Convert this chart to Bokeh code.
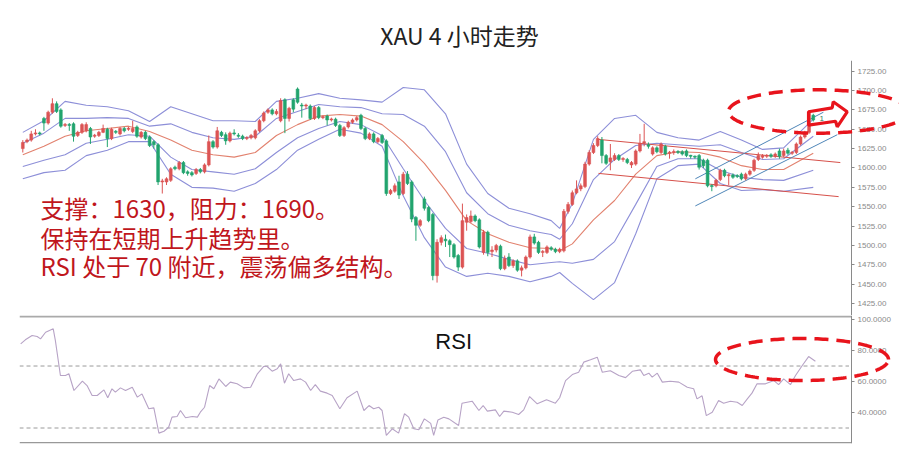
import numpy as np
from bokeh.plotting import figure
from bokeh.layouts import column
from bokeh.models import (Range1d, FixedTicker, NumeralTickFormatter, Label, PolyAnnotation)
from bokeh.embed import file_html
from bokeh.resources import INLINE

# ---------------- data ----------------
opens = [1625, 1634, 1636, 1644, 1645, 1664, 1658, 1672, 1683, 1675,
         1655, 1656, 1657, 1642, 1646, 1648, 1651, 1641, 1642, 1646,
         1650, 1638, 1647, 1644, 1651, 1650, 1647, 1653, 1640, 1646,
         1640, 1634, 1630, 1582, 1582, 1584, 1601, 1599, 1607, 1595,
         1594, 1593, 1598, 1595, 1604, 1634, 1627, 1646, 1643, 1635,
         1645, 1642, 1641, 1638, 1639, 1639, 1648, 1661, 1672, 1675,
         1670, 1661, 1688, 1664, 1688, 1702, 1681, 1680, 1680, 1664,
         1678, 1665, 1667, 1662, 1663, 1655, 1642, 1653, 1659, 1662,
         1668, 1651, 1638, 1644, 1634, 1642, 1635, 1567, 1570, 1582,
         1567, 1592, 1582, 1536, 1526, 1560, 1549, 1540, 1461, 1504,
         1508, 1506, 1501, 1487, 1472, 1530, 1531, 1538, 1533, 1491,
         1517, 1492, 1494, 1499, 1470, 1485, 1474, 1480, 1468, 1471,
         1485, 1511, 1504, 1491, 1491, 1497, 1495, 1492, 1493, 1544,
         1553, 1568, 1573, 1576, 1605, 1620, 1629, 1636, 1616, 1608,
         1611, 1616, 1611, 1611, 1604, 1605, 1622, 1632, 1630, 1618,
         1626, 1620, 1628, 1619, 1620, 1621, 1621, 1622, 1616, 1615,
         1616, 1610, 1610, 1577, 1577, 1585, 1597, 1590, 1591, 1590,
         1592, 1586, 1592, 1597, 1611, 1614, 1615, 1617, 1615, 1622,
         1616, 1623, 1619, 1620, 1631, 1640, 1646, 1668]
closes = [1633, 1636, 1644, 1645, 1644, 1658, 1672, 1683, 1673, 1654,
          1656, 1655, 1641, 1646, 1656, 1656, 1640, 1642, 1646, 1651,
          1638, 1650, 1646, 1651, 1648, 1651, 1651, 1641, 1646, 1638,
          1629, 1630, 1582, 1583, 1586, 1599, 1599, 1607, 1594, 1593,
          1591, 1598, 1595, 1604, 1634, 1627, 1648, 1642, 1635, 1645,
          1644, 1641, 1638, 1639, 1642, 1648, 1661, 1671, 1675, 1670,
          1673, 1687, 1664, 1677, 1676, 1685, 1680, 1681, 1664, 1678,
          1665, 1666, 1662, 1663, 1655, 1642, 1652, 1659, 1662, 1665,
          1651, 1638, 1644, 1634, 1638, 1633, 1567, 1571, 1577, 1565,
          1592, 1580, 1534, 1526, 1532, 1548, 1532, 1461, 1504, 1510,
          1506, 1501, 1485, 1472, 1532, 1536, 1538, 1532, 1498, 1517,
          1491, 1494, 1500, 1470, 1483, 1474, 1480, 1468, 1471, 1485,
          1511, 1503, 1491, 1492, 1498, 1495, 1492, 1495, 1544, 1553,
          1568, 1573, 1577, 1605, 1620, 1629, 1638, 1616, 1606, 1613,
          1616, 1611, 1612, 1607, 1607, 1622, 1632, 1634, 1628, 1626,
          1621, 1631, 1618, 1620, 1621, 1620, 1618, 1616, 1615, 1614,
          1601, 1603, 1577, 1576, 1584, 1597, 1590, 1591, 1588, 1589,
          1586, 1592, 1596, 1610, 1616, 1616, 1616, 1615, 1618, 1615,
          1622, 1619, 1620, 1631, 1640, 1646, 1672, 1662]
highs = [1636, 1638, 1648, 1650, 1647, 1666, 1674, 1690, 1686, 1677,
         1658, 1658, 1659, 1648, 1658, 1659, 1653, 1644, 1648, 1656,
         1652, 1652, 1649, 1653, 1653, 1653, 1661, 1655, 1648, 1648,
         1642, 1636, 1632, 1586, 1588, 1601, 1603, 1609, 1609, 1597,
         1596, 1600, 1600, 1606, 1642, 1636, 1653, 1648, 1646, 1647,
         1650, 1645, 1643, 1641, 1644, 1650, 1663, 1673, 1677, 1677,
         1676, 1690, 1690, 1679, 1690, 1704, 1684, 1683, 1682, 1680,
         1680, 1668, 1669, 1665, 1665, 1657, 1654, 1661, 1664, 1667,
         1670, 1653, 1646, 1646, 1640, 1644, 1637, 1573, 1580, 1590,
         1595, 1596, 1584, 1538, 1534, 1563, 1551, 1542, 1508, 1513,
         1514, 1508, 1503, 1489, 1554, 1540, 1545, 1540, 1535, 1520,
         1519, 1499, 1502, 1501, 1487, 1490, 1482, 1482, 1474, 1487,
         1514, 1515, 1506, 1494, 1500, 1499, 1497, 1497, 1547, 1556,
         1571, 1584, 1580, 1608, 1623, 1632, 1641, 1640, 1618, 1631,
         1619, 1618, 1614, 1613, 1609, 1624, 1644, 1657, 1633, 1628,
         1628, 1633, 1630, 1622, 1624, 1623, 1623, 1624, 1617, 1616,
         1618, 1612, 1612, 1579, 1586, 1599, 1599, 1593, 1593, 1592,
         1594, 1594, 1598, 1612, 1620, 1618, 1618, 1619, 1620, 1625,
         1625, 1626, 1622, 1633, 1642, 1648, 1674, 1670]
lows = [1620, 1632, 1634, 1642, 1642, 1648, 1656, 1670, 1671, 1652,
        1653, 1648, 1634, 1640, 1644, 1646, 1631, 1639, 1640, 1645,
        1627, 1636, 1644, 1642, 1646, 1648, 1645, 1639, 1638, 1636,
        1627, 1625, 1578, 1567, 1578, 1582, 1597, 1597, 1592, 1590,
        1589, 1591, 1593, 1593, 1602, 1625, 1625, 1640, 1630, 1633,
        1642, 1639, 1636, 1636, 1637, 1637, 1646, 1659, 1670, 1668,
        1668, 1659, 1645, 1660, 1672, 1683, 1665, 1676, 1662, 1662,
        1663, 1663, 1655, 1660, 1653, 1640, 1640, 1651, 1657, 1660,
        1649, 1636, 1636, 1632, 1632, 1631, 1564, 1565, 1568, 1560,
        1565, 1578, 1530, 1506, 1524, 1545, 1530, 1455, 1452, 1500,
        1498, 1485, 1483, 1467, 1470, 1519, 1529, 1530, 1496, 1488,
        1486, 1485, 1491, 1468, 1468, 1472, 1471, 1466, 1460, 1469,
        1483, 1501, 1489, 1485, 1489, 1493, 1490, 1490, 1491, 1541,
        1551, 1566, 1570, 1574, 1603, 1618, 1627, 1606, 1604, 1597,
        1609, 1609, 1608, 1605, 1600, 1603, 1620, 1628, 1625, 1616,
        1619, 1618, 1616, 1612, 1617, 1618, 1616, 1614, 1612, 1612,
        1598, 1600, 1575, 1570, 1575, 1583, 1588, 1578, 1586, 1587,
        1584, 1584, 1590, 1595, 1609, 1612, 1613, 1613, 1613, 1612,
        1614, 1617, 1617, 1618, 1629, 1638, 1644, 1660]

# Bollinger-style envelope lines, read at sampled candle positions
band_idx = [0, 5, 10, 15, 20, 25, 30, 35, 40, 45, 50, 55, 60, 65, 70, 75, 80, 85, 90, 95,
            100, 105, 110, 115, 120, 125, 127, 130, 135, 140, 145, 150, 155, 160, 165, 170,
            175, 180, 187]
band_up2 = [1646, 1661, 1686, 1681, 1679, 1674, 1660, 1679, 1670, 1661,
            1661, 1660, 1686, 1690, 1696, 1690, 1688, 1685, 1704, 1701,
            1670, 1605, 1567, 1548, 1541, 1532, 1522, 1554, 1637, 1664,
            1668, 1646, 1639, 1636, 1647, 1636, 1624, 1626, 1663]
band_up1 = [1632, 1645, 1664, 1664, 1665, 1664, 1654, 1657, 1646, 1639,
            1637, 1641, 1664, 1673, 1682, 1679, 1678, 1670, 1669, 1654,
            1621, 1568, 1541, 1526, 1519, 1514, 1508, 1528, 1585, 1611,
            1629, 1632, 1630, 1628, 1630, 1620, 1611, 1612, 1641]
band_mid = [1617, 1628, 1641, 1648, 1651, 1654, 1647, 1636, 1623, 1617,
            1614, 1620, 1642, 1656, 1667, 1669, 1667, 1656, 1634, 1606,
            1571, 1532, 1515, 1504, 1497, 1496, 1493, 1502, 1533, 1558,
            1592, 1616, 1621, 1620, 1614, 1603, 1598, 1598, 1619]
band_lo1 = [1602, 1610, 1617, 1632, 1637, 1643, 1641, 1614, 1598, 1595,
            1592, 1599, 1620, 1639, 1651, 1660, 1656, 1642, 1599, 1558,
            1522, 1496, 1490, 1482, 1475, 1478, 1479, 1477, 1482, 1505,
            1553, 1602, 1612, 1612, 1597, 1588, 1585, 1584, 1597]
band_lo2 = [1586, 1594, 1597, 1616, 1623, 1634, 1634, 1592, 1575, 1574,
            1570, 1580, 1598, 1623, 1637, 1650, 1645, 1628, 1564, 1510,
            1472, 1460, 1464, 1460, 1453, 1460, 1465, 1451, 1430, 1452,
            1515, 1586, 1603, 1605, 1580, 1571, 1572, 1570, 1575]

# hand-drawn trend / channel lines: [start index, end index], [start price, end price]
red_upper_x, red_upper_y = [136.0, 193.4], [1637, 1607]
red_lower_x, red_lower_y = [136.2, 193.0], [1593, 1563]
blue_upper_x, blue_upper_y = [159.1, 189.4], [1586, 1672]
blue_lower_x, blue_lower_y = [159.1, 192.7], [1551, 1643]

# RSI line
rsi_x = [-0.5, 0.6, 2.2, 3.4, 4.2, 5.4, 7.2, 7.7, 8.9, 10.1,
         10.9, 12.1, 14.1, 15.2, 16.4, 17.6, 19.2, 20.1, 21.1, 21.9,
         23.1, 24.3, 25.9, 27.1, 28.2, 29.8, 31.0, 32.2, 33.4, 34.5,
         35.3, 36.5, 37.3, 38.5, 40.1, 41.3, 42.0, 43.0, 44.2, 45.2,
         46.4, 48.0, 49.1, 50.7, 52.3, 53.9, 55.5, 57.0, 57.8, 59.0,
         60.2, 61.0, 61.9, 62.9, 64.1, 65.7, 66.9, 68.1, 69.2, 70.4,
         72.0, 73.2, 75.0, 76.7, 79.1, 80.7, 81.9, 83.0, 84.2, 85.0,
         86.0, 87.4, 88.9, 90.3, 91.3, 92.5, 93.7, 95.0, 96.5, 97.2,
         98.2, 99.6, 100.8, 103.1, 103.9, 106.3, 107.9, 108.9, 109.9, 111.8,
         112.8, 113.8, 115.8, 117.3, 118.5, 119.9, 121.7, 123.9, 126.0, 127.0,
         128.4, 130.0, 131.5, 132.7, 134.3, 135.9, 137.1, 139.0, 141.0, 142.6,
         144.2, 146.1, 146.9, 148.1, 148.9, 150.1, 151.3, 153.2, 155.2, 157.2,
         158.7, 159.5, 160.7, 161.7, 163.1, 164.6, 165.8, 167.4, 169.0, 170.2,
         171.4, 172.5, 173.7, 175.7, 177.7, 178.8, 180.0, 181.6, 182.8, 184.4,
         185.9, 187.5]
rsi_val = [84.3, 86.9, 89.7, 89.0, 87.5, 91.8, 94.0, 86.5, 63.9, 63.9,
           65.0, 54.2, 60.2, 57.4, 51.0, 51.0, 54.6, 49.5, 55.3, 53.2,
           55.9, 54.2, 56.3, 49.9, 52.0, 42.4, 43.0, 26.7, 27.9, 30.5,
           37.0, 37.4, 41.3, 36.6, 37.4, 37.0, 40.2, 43.4, 57.4, 55.3,
           61.7, 56.8, 59.6, 58.5, 55.9, 56.3, 65.0, 69.7, 69.7, 66.7,
           68.2, 71.4, 58.9, 65.0, 60.6, 61.7, 59.6, 54.2, 58.0, 53.8,
           52.5, 51.0, 42.4, 49.5, 53.8, 41.3, 44.5, 42.4, 43.4, 41.3,
           25.2, 29.5, 26.7, 39.2, 37.0, 29.5, 28.9, 35.9, 33.0, 25.2,
           35.1, 37.0, 35.9, 31.6, 46.0, 47.3, 41.3, 44.5, 40.9, 41.7,
           37.4, 40.9, 40.2, 38.7, 41.7, 50.3, 45.6, 48.2, 46.0, 49.5,
           60.6, 64.5, 66.0, 72.5, 74.0, 75.7, 66.0, 67.0, 63.9, 62.5,
           66.6, 67.5, 63.9, 65.4, 62.8, 65.4, 59.6, 60.2, 59.6, 56.3,
           55.3, 48.8, 50.8, 38.0, 40.2, 47.7, 46.0, 47.3, 46.6, 44.5,
           48.8, 52.5, 58.5, 58.5, 60.6, 58.0, 61.7, 58.0, 63.9, 70.3,
           76.1, 73.1]

price_ticks = [1425, 1450, 1475, 1500, 1525, 1550, 1575, 1600, 1625, 1650, 1675, 1700, 1725]
rsi_ticks = [40, 60, 80, 100]
rsi_levels = [70, 30]

title_text = "XAU 4 小时走势"
note_lines = ["支撑：1630，阻力：1690。", "保持在短期上升趋势里。", "RSI 处于 70 附近，震荡偏多结构。"]

# ---------------- styling / layout constants ----------------
RED = "#dc5454"
GREEN = "#22a46e"
BAND_BLUE = "#8d8fd8"
BAND_MID = "#e2826f"
AXIS_GREY = "#8a8a8a"
NOTE_RED = "#c0161c"
MARK_RED = "#e8141c"
CJK = "Noto Sans CJK SC"

X0, X1 = -0.78, 207.4          # visible candle-index span (frame runs to the page edge)
AXIS_AT = 196.05                # where the price / RSI axes sit
TOP_Y = (1409.5, 1738.8)
RSI_Y = (20.0, 102.6)


def style_axis(ax, ticks, fmt):
    ax.ticker = FixedTicker(ticks=ticks)
    ax.formatter = NumeralTickFormatter(format=fmt)
    ax.fixed_location = AXIS_AT
    ax.major_label_text_font_size = "8px"
    ax.major_label_text_font = "Liberation Sans"
    ax.major_label_text_color = AXIS_GREY
    ax.axis_line_color = AXIS_GREY
    ax.major_tick_line_color = AXIS_GREY
    ax.major_tick_in = 0
    ax.major_tick_out = 3
    ax.minor_tick_line_color = None
    ax.major_label_standoff = 3


x_rng = Range1d(X0, X1)

p1 = figure(frame_width=880, frame_height=255, x_range=x_rng, y_range=Range1d(*TOP_Y),
            output_backend="svg", toolbar_location=None, y_axis_location="right",
            x_axis_location=None, min_border_left=19, min_border_right=0,
            min_border_top=60, min_border_bottom=0, title=title_text)
p1.grid.visible = False
p1.outline_line_color = None
p1.title.align = "center"
p1.title.text_font = CJK
p1.title.text_font_size = "23px"
p1.title.text_font_style = "normal"
p1.title.text_color = "#222222"
p1.title.standoff = 17
p1.title.offset = -5

# bands
for vals, col in [(band_up2, BAND_BLUE), (band_up1, BAND_BLUE), (band_lo1, BAND_BLUE),
                  (band_lo2, BAND_BLUE), (band_mid, BAND_MID)]:
    p1.line(band_idx, vals, line_color=col, line_width=1.1)

# trend lines
p1.line(red_upper_x, red_upper_y, line_color="#d6504a", line_width=1)
p1.line(red_lower_x, red_lower_y, line_color="#d6504a", line_width=1)
p1.line(blue_upper_x, blue_upper_y, line_color="#4f86b8", line_width=1)
p1.line(blue_lower_x, blue_lower_y, line_color="#4f86b8", line_width=1)

# candles
idx = list(range(len(opens)))
colors = [RED if c >= o else GREEN for o, c in zip(opens, closes)]
tops = [max(o, c) for o, c in zip(opens, closes)]
bots = [min(o, c) for o, c in zip(opens, closes)]
tops = [t if t - b >= 1.3 else b + 1.3 for t, b in zip(tops, bots)]
p1.segment(x0=idx, y0=lows, x1=idx, y1=highs, line_color=colors, line_width=1)
p1.vbar(x=idx, width=0.66, top=tops, bottom=bots, fill_color=colors, line_color=colors,
        line_width=0.6)

style_axis(p1.yaxis[0], price_ticks, "0.00")

# notes
for txt, yy in zip(note_lines, [1549.0, 1510.0, 1474.0]):
    p1.add_layout(Label(x=4.2, y=yy, text=txt, text_align="left", text_baseline="middle",
                        text_font=CJK, text_font_size="24px", text_color=NOTE_RED))

p1.add_layout(Label(x=188.5, y=1664.5, text="1", text_font_size="8px",
                    text_baseline="middle", text_color="#2e7d5b"))

t = np.linspace(0, 2 * np.pi, 200)
p1.add_layout(PolyAnnotation(xs=list(188.24 + 21.29 * np.cos(t)),
                             ys=list(1672.95 + 28.0 * np.sin(t)),
                             fill_color=None, line_color=MARK_RED, line_alpha=1.0,
                             line_width=3.5, line_dash="14 8"))
arrow_x = [185.88, 191.48, 191.72, 195.03, 192.67, 192.27, 185.88]
arrow_y = [1672.6, 1677.7, 1685.5, 1672.6, 1653.2, 1660.4, 1655.3]
p1.add_layout(PolyAnnotation(xs=arrow_x, ys=arrow_y, fill_color=None, line_color=MARK_RED,
                             line_alpha=1.0, line_width=3.2))

# ---------------- RSI panel ----------------
p2 = figure(frame_width=880, frame_height=128, x_range=x_rng, y_range=Range1d(*RSI_Y),
            output_backend="svg", toolbar_location=None, y_axis_location="right",
            x_axis_location=None, min_border_left=19, min_border_right=0,
            min_border_top=0, min_border_bottom=5)
p2.grid.visible = False
p2.outline_line_color = None

# panel borders and reference levels (stop at the axis)
p2.segment(x0=[X0], x1=[AXIS_AT], y0=[RSI_Y[1] - 0.7], y1=[RSI_Y[1] - 0.7],
           line_color="#aaaaaa", line_width=2)
p2.segment(x0=[X0], x1=[AXIS_AT], y0=[RSI_Y[0] + 0.5], y1=[RSI_Y[0] + 0.5],
           line_color="#999999", line_width=1.5)
p2.segment(x0=[X0] * len(rsi_levels), x1=[AXIS_AT - 0.6] * len(rsi_levels),
           y0=rsi_levels, y1=rsi_levels, line_color="#9a9a9a", line_width=1,
           line_dash="4 3")
p2.line(rsi_x, rsi_val, line_color="#b7a3c6", line_width=1.1)

style_axis(p2.yaxis[0], rsi_ticks, "0.0000")

p2.add_layout(Label(x=97.6, y=85.8, text="RSI", text_align="left", text_baseline="middle",
                    text_font="Liberation Sans", text_font_size="22px",
                    text_color="#111111"))
p2.add_layout(PolyAnnotation(xs=list(184.34 + 20.46 * np.cos(t)),
                             ys=list(74.2 + 13.55 * np.sin(t)),
                             fill_color=None, line_color=MARK_RED, line_alpha=1.0,
                             line_width=3.5, line_dash="14 8"))

layout = column(p1, p2, spacing=0)
open("out.html", "w").write(file_html(layout, INLINE))
